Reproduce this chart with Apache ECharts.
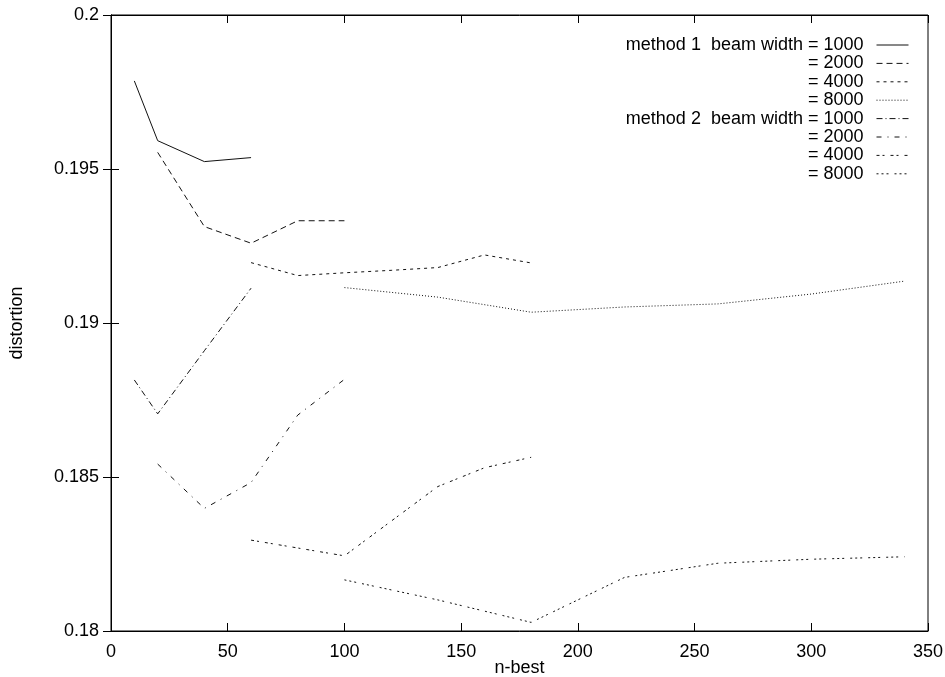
<!DOCTYPE html>
<html><head><meta charset="utf-8">
<script src="https://cdn.jsdelivr.net/npm/echarts@6/dist/echarts.min.js"></script>
<style>html,body{margin:0;padding:0;background:#fff}#c{width:945px;height:677px}</style>
</head><body><div id="c"></div>
<script>
// tick values
var xTicks = [0, 50, 100, 150, 200, 250, 300, 350];
var yTicks = [0.18, 0.185, 0.19, 0.195, 0.2];

// method 1
var m1_1000_x = [10, 20, 40, 60];
var m1_1000_y = [0.19786, 0.19592, 0.19524, 0.19537];
var m1_2000_x = [20, 40, 60, 80, 100];
var m1_2000_y = [0.19554, 0.19313, 0.19259, 0.19332, 0.19332];
var m1_4000_x = [60, 80, 100, 120, 140, 160, 180];
var m1_4000_y = [0.19196, 0.19154, 0.19163, 0.19171, 0.19180, 0.19221, 0.19195];
var m1_8000_x = [100, 140, 180, 220, 260, 300, 340];
var m1_8000_y = [0.19115, 0.19084, 0.19035, 0.19052, 0.19062, 0.19094, 0.19136];
// method 2
var m2_1000_x = [10, 20, 40, 60];
var m2_1000_y = [0.18815, 0.18705, 0.18910, 0.19113];
var m2_2000_x = [20, 40, 60, 80, 100];
var m2_2000_y = [0.18542, 0.18398, 0.18482, 0.18701, 0.18817];
var m2_4000_x = [60, 100, 140, 160, 180];
var m2_4000_y = [0.18295, 0.18244, 0.18469, 0.18530, 0.18564];
var m2_8000_x = [100, 140, 180, 220, 260, 300, 340];
var m2_8000_y = [0.18166, 0.18101, 0.18028, 0.18174, 0.18220, 0.18233, 0.18241];

var legendLabels = ['method 1  beam width = 1000', '= 2000', '= 4000', '= 8000',
                    'method 2  beam width = 1000', '= 2000', '= 4000', '= 8000'];
var seriesNames = ['m1_1000', 'm1_2000', 'm1_4000', 'm1_8000', 'm2_1000', 'm2_2000', 'm2_4000', 'm2_8000'];

function pairs(xs, ys) { return xs.map(function (x, i) { return [x, ys[i]]; }); }
var allData = [
  pairs(m1_1000_x, m1_1000_y), pairs(m1_2000_x, m1_2000_y), pairs(m1_4000_x, m1_4000_y), pairs(m1_8000_x, m1_8000_y),
  pairs(m2_1000_x, m2_1000_y), pairs(m2_2000_x, m2_2000_y), pairs(m2_4000_x, m2_4000_y), pairs(m2_8000_x, m2_8000_y)
];
var dashes = ['solid', [6, 4], [3, 4], [1, 2], [6, 3, 1, 3], [5, 6, 1, 6], [3, 3, 2, 6], [2, 3, 2, 3, 2, 6]];

var FONT = 'Liberation Sans';
var FS = 18;
var series = seriesNames.map(function (n, i) {
  return {
    name: n, type: 'line', data: allData[i], symbol: 'none', showSymbol: false, silent: true,
    lineStyle: { color: '#111', width: 1, type: dashes[i] },
    itemStyle: { color: '#111' }
  };
});

var chart = echarts.init(document.getElementById('c'), null, { renderer: 'canvas' });
chart.setOption({
  animation: false,
  backgroundColor: '#fff',
  textStyle: { fontFamily: FONT },
  grid: { left: 111, right: 17, top: 15, bottom: 46, show: true, borderColor: '#000', borderWidth: 1,
          outerBoundsMode: 'none', containLabel: false },
  legend: {
    orient: 'vertical', align: 'right', right: 31, top: 31,
    itemWidth: 32, itemHeight: 14, itemGap: 0.4,
    data: seriesNames,
    formatter: function (n) { return legendLabels[seriesNames.indexOf(n)]; },
    itemStyle: { opacity: 0 },
    lineStyle: { width: 1 },
    textStyle: { fontFamily: FONT, fontSize: FS, lineHeight: 18, color: '#000', padding: [0, 8, 0, 0] },
    selectedMode: false
  },
  xAxis: [{
    type: 'value', min: 0, max: 350, interval: 50,
    name: 'n-best', nameLocation: 'middle', nameGap: 28, nameMoveOverlap: false,
    nameTextStyle: { fontFamily: FONT, fontSize: FS, color: '#000' },
    axisLine: { lineStyle: { color: '#000', width: 1 } },
    axisTick: { inside: true, length: 8, lineStyle: { color: '#000' } },
    axisLabel: { fontFamily: FONT, fontSize: FS, color: '#000', margin: 12 },
    splitLine: { show: false }
  }, {
    type: 'value', min: 0, max: 350, interval: 50, position: 'top',
    axisLine: { lineStyle: { color: '#000' } },
    axisTick: { inside: true, length: 8, lineStyle: { color: '#000' } },
    axisLabel: { show: false }, splitLine: { show: false }
  }],
  yAxis: [{
    type: 'value', min: 0.18, max: 0.2, interval: 0.005,
    name: 'distortion', nameLocation: 'middle', nameGap: 85, nameRotate: 90, nameMoveOverlap: false,
    nameTextStyle: { fontFamily: FONT, fontSize: FS, color: '#000' },
    axisLine: { show: true, lineStyle: { color: '#000', width: 1 } },
    axisTick: { show: true, inside: true, length: 8, lineStyle: { color: '#000' } },
    axisLabel: { fontFamily: FONT, fontSize: FS, color: '#000', margin: 12,
      formatter: function (v) { return String(+v.toFixed(3)); } },
    splitLine: { show: false }
  }, {
    type: 'value', min: 0.18, max: 0.2, interval: 0.005, position: 'right',
    axisLine: { show: true, lineStyle: { color: '#000' } },
    axisTick: { show: true, inside: true, length: 8, lineStyle: { color: '#000' } },
    axisLabel: { show: false }, splitLine: { show: false }
  }],
  series: series
});
</script></body></html>
